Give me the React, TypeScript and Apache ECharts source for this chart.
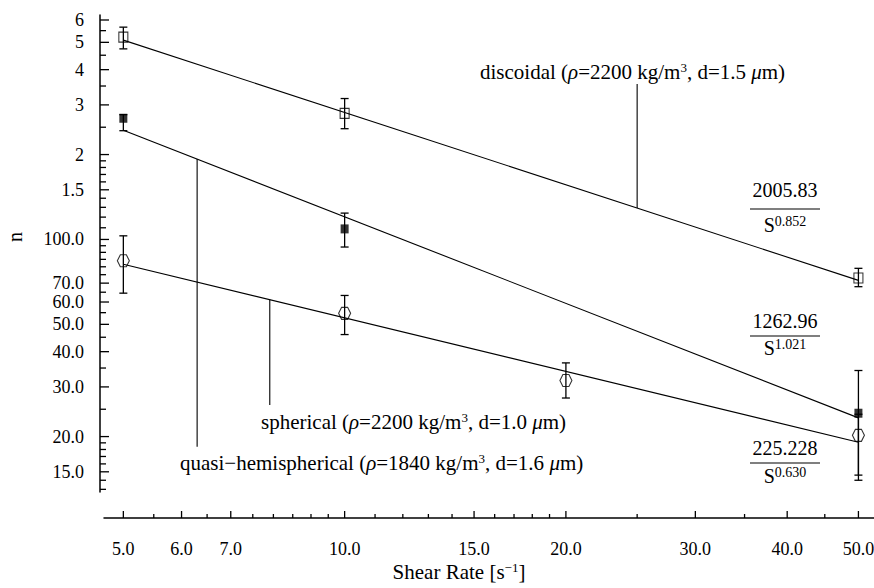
import React, { useEffect, useRef } from "react";
import * as echarts from "echarts";

const FONT = "Liberation Serif";

// axis ranges
const X_MIN = 4.706;
const X_MAX = 52.5;
const Y_MIN = 12.72;
const Y_MAX = 625;

// tick values & labels
const xMajorTicks = [5, 6, 7, 10, 15, 20, 30, 40, 50];
const xMajorLabels = ["5.0", "6.0", "7.0", "10.0", "15.0", "20.0", "30.0", "40.0", "50.0"];
const xMinorTicks = [5.5, 6.5, 7.5, 8, 8.5, 9, 9.5, 11, 12, 13, 14, 16, 17, 18, 19, 25, 35, 45];
const yMajorTicks = [15, 20, 30, 40, 50, 60, 70, 100, 150, 200, 300, 400, 500, 600];
const yMajorLabels = ["15.0", "20.0", "30.0", "40.0", "50.0", "60.0", "70.0", "100.0", "1.5", "2", "3", "4", "5", "6"];
const yMinorTicks = [13, 14, 16, 17, 18, 19, 25, 35, 45, 55, 65, 75, 80, 85, 90, 95, 110, 120, 130, 140, 160, 170, 180, 190, 250, 350, 450, 550];

// measured data
const discoidalShear = [5, 10, 50];
const discoidalN = [522, 280, 73];
const discoidalLow = [474, 247, 68];
const discoidalHigh = [566, 316, 79];

const sphericalShear = [5, 10, 50];
const sphericalN = [269, 109, 24.2];
const sphericalLow = [243, 94, 14.0];
const sphericalHigh = [277, 124, 34.3];

const quasiShear = [5, 10, 20, 50];
const quasiN = [84, 54.7, 31.6, 20.2];
const quasiLow = [64.5, 46, 27.4, 14.6];
const quasiHigh = [103, 63.3, 36.5, 24];

// fitted power-law lines (end points)
const fitShear = [5, 50];
const discoidalFit = [509, 71.6];
const sphericalFit = [244, 23.3];
const quasiFit = [81.7, 19.1];

// leader lines [shear, from n, to n]
const leaders = [
  [25, 129.2, 356],
  [7.91, 61.2, 25.9],
  [6.3, 192.8, 18.4],
];

const X_OFFSET = 26;
const Y_OFFSET = 4;
const TICK_FS = 18;
const FRAC_FS = 20;
const TEXT_FS = 21;

export default function App() {
  const ref = useRef<HTMLDivElement>(null);
  useEffect(() => {
    document.body.style.margin = "0";
    if (!ref.current) return;
    const chart = echarts.init(ref.current, null, { renderer: "svg" });

    const tickSeries = (values: number[], kind: "x" | "y", len: number) => ({
      type: "custom",
      coordinateSystem: "cartesian2d",
      silent: true,
      clip: false,
      z: 5,
      data: values.map((v) => (kind === "x" ? [v, Y_MIN] : [X_MIN, v])),
      renderItem: (_p: any, api: any) => {
        const p = api.coord([api.value(0), api.value(1)]);
        if (kind === "x") {
          const y0 = p[1] + X_OFFSET;
          return {
            type: "line",
            shape: { x1: p[0], y1: y0, x2: p[0], y2: y0 - len },
            style: { stroke: "#000", lineWidth: 1.3 },
          };
        }
        const x0 = p[0] - Y_OFFSET;
        return {
          type: "line",
          shape: { x1: x0, y1: p[1], x2: x0 + len, y2: p[1] },
          style: { stroke: "#000", lineWidth: 1.3 },
        };
      },
    });

    const labelSeries = (values: number[], labels: string[], kind: "x" | "y") => ({
      type: "custom",
      coordinateSystem: "cartesian2d",
      silent: true,
      clip: false,
      data: values.map((v, i) => (kind === "x" ? [v, Y_MIN, i] : [X_MIN, v, i])),
      renderItem: (_p: any, api: any) => {
        const p = api.coord([api.value(0), api.value(1)]);
        const idx = api.value(2);
        const text = labels[idx];
        if (kind === "x") {
          return {
            type: "text",
            x: p[0],
            y: p[1] + X_OFFSET + 31,
            style: {
              text,
              fill: "#000",
              fontSize: TICK_FS,
              fontFamily: FONT,
              textAlign: "center",
              textVerticalAlign: "middle",
            },
          };
        }
        return {
          type: "text",
          x: 84,
          y: p[1],
          style: {
            text,
            fill: "#000",
            fontSize: TICK_FS,
            fontFamily: FONT,
            textAlign: "right",
            textVerticalAlign: "middle",
          },
        };
      },
    });

    const errSeries = (xs: number[], lo: number[], hi: number[]) => ({
      type: "custom",
      coordinateSystem: "cartesian2d",
      silent: true,
      clip: false,
      z: 3,
      data: xs.map((x, i) => [x, lo[i], hi[i]]),
      renderItem: (_p: any, api: any) => {
        const a = api.coord([api.value(0), api.value(1)]);
        const b = api.coord([api.value(0), api.value(2)]);
        const w = 4;
        const st = { stroke: "#000", lineWidth: 1.3 };
        return {
          type: "group",
          children: [
            { type: "line", shape: { x1: a[0], y1: a[1], x2: b[0], y2: b[1] }, style: st },
            { type: "line", shape: { x1: a[0] - w, y1: a[1], x2: a[0] + w, y2: a[1] }, style: st },
            { type: "line", shape: { x1: b[0] - w, y1: b[1], x2: b[0] + w, y2: b[1] }, style: st },
          ],
        };
      },
    });

    const fitSeries = (vals: number[]) => ({
      type: "line",
      data: fitShear.map((s, i) => [s, vals[i]]),
      symbol: "none",
      silent: true,
      z: 2,
      lineStyle: { color: "#000", width: 1.1 },
    });

    const leaderSeries = {
      type: "custom",
      coordinateSystem: "cartesian2d",
      silent: true,
      clip: false,
      z: 2,
      data: leaders,
      renderItem: (_p: any, api: any) => {
        const a = api.coord([api.value(0), api.value(1)]);
        const b = api.coord([api.value(0), api.value(2)]);
        return {
          type: "line",
          shape: { x1: a[0], y1: a[1], x2: b[0], y2: b[1] },
          style: { stroke: "#000", lineWidth: 1.1 },
        };
      },
    };

    const hexPath = "path://M3,0 L9,0 L12,6 L9,12 L3,12 L0,6 Z";

    const richBase = {
      a: { fontSize: TEXT_FS, fontFamily: FONT, lineHeight: 23, fill: "#000" },
      f: { fontSize: FRAC_FS, fontFamily: FONT, lineHeight: 22, fill: "#000" },
      i: { fontSize: TEXT_FS, fontFamily: FONT, fontStyle: "italic", lineHeight: 23, fill: "#000" },
      s: { fontSize: 13, fontFamily: FONT, lineHeight: 12, verticalAlign: "top", fill: "#000" },
      e: { fontSize: 14, fontFamily: FONT, lineHeight: 12, verticalAlign: "top", fill: "#000" },
    };

    const annotation = (x: number, y: number, name: string, rho: string, d: string) => ({
      type: "text",
      x,
      y,
      style: {
        text: `{a|${name} (}{i|ρ}{a|=${rho} kg/m}{s|3}{a|, d=${d} }{i|μ}{a|m)}`,
        rich: richBase,
        textAlign: "left",
        textVerticalAlign: "middle",
      },
    });

    const fraction = (cx: number, yNum: number, yBar: number, yDen: number, num: string, exp: string) => [
      {
        type: "text",
        x: cx,
        y: yNum,
        style: {
          text: num,
          fontSize: FRAC_FS,
          fontFamily: FONT,
          fill: "#000",
          textAlign: "center",
          textVerticalAlign: "middle",
        },
      },
      {
        type: "line",
        shape: { x1: cx - 35, y1: yBar, x2: cx + 35, y2: yBar },
        style: { stroke: "#000", lineWidth: 1.2 },
      },
      {
        type: "text",
        x: cx,
        y: yDen,
        style: {
          text: `{f|S}{e|${exp}}`,
          rich: richBase,
          textAlign: "center",
          textVerticalAlign: "middle",
        },
      },
    ];

    const option: any = {
      animation: false,
      backgroundColor: "#fff",
      textStyle: { fontFamily: FONT },
      grid: { left: 104, right: 0, top: 15, bottom: 96, containLabel: false },
      xAxis: {
        type: "log",
        min: X_MIN,
        max: X_MAX,
        offset: X_OFFSET,
        axisLine: { show: true, onZero: false, lineStyle: { color: "#000", width: 1.5 } },
        axisTick: { show: false },
        axisLabel: { show: false },
        splitLine: { show: false },
      },
      yAxis: {
        type: "log",
        min: Y_MIN,
        max: Y_MAX,
        offset: Y_OFFSET,
        axisLine: { show: true, onZero: false, lineStyle: { color: "#000", width: 1.5 } },
        axisTick: { show: false },
        axisLabel: { show: false },
        splitLine: { show: false },
      },
      series: [
        fitSeries(discoidalFit),
        fitSeries(sphericalFit),
        fitSeries(quasiFit),
        leaderSeries,
        errSeries(discoidalShear, discoidalLow, discoidalHigh),
        errSeries(sphericalShear, sphericalLow, sphericalHigh),
        errSeries(quasiShear, quasiLow, quasiHigh),
        {
          type: "scatter",
          name: "discoidal",
          data: discoidalShear.map((s, i) => [s, discoidalN[i]]),
          symbol: "rect",
          symbolSize: [9, 10],
          z: 4,
          itemStyle: { color: "rgba(0,0,0,0)", borderColor: "#000", borderWidth: 1.1 },
        },
        {
          type: "scatter",
          name: "spherical",
          data: sphericalShear.map((s, i) => [s, sphericalN[i]]),
          symbol: "rect",
          symbolSize: [8, 9],
          z: 4,
          itemStyle: { color: "#000" },
        },
        {
          type: "scatter",
          name: "quasi-hemispherical",
          data: quasiShear.map((s, i) => [s, quasiN[i]]),
          symbol: hexPath,
          symbolSize: 12,
          z: 4,
          itemStyle: { color: "rgba(0,0,0,0)", borderColor: "#000", borderWidth: 1.1 },
        },
        tickSeries(xMajorTicks, "x", 7),
        tickSeries(xMinorTicks, "x", 4),
        tickSeries(yMajorTicks, "y", 9),
        tickSeries(yMinorTicks, "y", 6),
        labelSeries(xMajorTicks, xMajorLabels, "x"),
        labelSeries(yMajorTicks, yMajorLabels, "y"),
      ],
      graphic: [
        annotation(480, 72, "discoidal", "2200", "1.5"),
        annotation(261, 422, "spherical", "2200", "1.0"),
        annotation(180, 463, "quasi−hemispherical", "1840", "1.6"),
        ...fraction(785, 190, 209, 225, "2005.83", "0.852"),
        ...fraction(785, 321, 336, 348, "1262.96", "1.021"),
        ...fraction(785, 448, 463, 476, "225.228", "0.630"),
        {
          type: "text",
          x: 459,
          y: 572,
          style: {
            text: "{a|Shear Rate [s}{s|−1}{a|]}",
            rich: richBase,
            textAlign: "center",
            textVerticalAlign: "middle",
          },
        },
        {
          type: "text",
          x: 15,
          y: 237,
          rotation: Math.PI / 2,
          style: {
            text: "n",
            fontSize: FRAC_FS,
            fontFamily: FONT,
            fill: "#000",
            textAlign: "center",
            textVerticalAlign: "middle",
          },
        },
      ],
    };

    chart.setOption(option);
    return () => chart.dispose();
  }, []);

  return <div ref={ref} style={{ width: 874, height: 588 }} />;
}
